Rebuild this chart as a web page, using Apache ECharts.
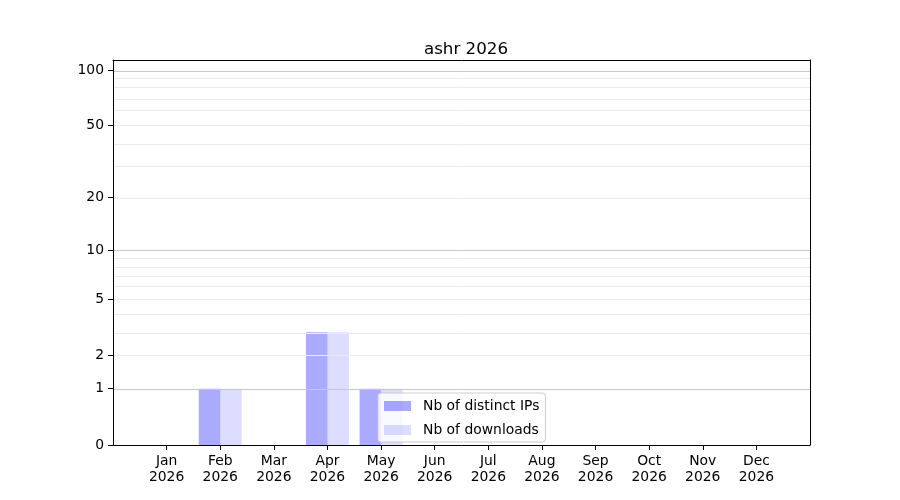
<!DOCTYPE html>
<html>
<head>
<meta charset="utf-8">
<script src="https://cdn.jsdelivr.net/npm/echarts@6/dist/echarts.min.js"></script>
<style>html,body{margin:0;padding:0;background:#fff}#c{width:900px;height:500px}</style>
</head>
<body>
<div id="c"></div>
<script>
const months = ['Jan','Feb','Mar','Apr','May','Jun','Jul','Aug','Sep','Oct','Nov','Dec'];
const year = '2026';
const distinctIPs = [0,1,0,3,1,0,0,0,0,0,0,0];
const downloads   = [0,1,0,3,1,0,0,0,0,0,0,0];
const yTicks = [0,1,2,5,10,20,50,100];
const gridMajor = [1,10,100];
const gridMinor = [2,3,4,5,6,7,8,9,20,30,40,50,60,70,80,90];
const yMaxRaw = 113.3;

const f = v => Math.log10(1 + v);
const inv = v => Math.round(Math.pow(10, v) - 1);
const FONT = 'DejaVu Sans';

const chart = echarts.init(document.getElementById('c'), null, {renderer:'canvas'});
chart.setOption({
  animation: false,
  backgroundColor: '#fff',
  title: {
    text: 'ashr ' + year,
    left: 461, top: 36, textAlign: 'center',
    textStyle: {fontFamily: FONT, fontSize: 16.7, fontWeight: 'normal', color: '#000'}
  },
  grid: {left: 113, right: 90, top: 60, bottom: 55, show: false},
  legend: {
    left: 378, top: 393, orient: 'vertical',
    itemWidth: 27, itemHeight: 10, itemGap: 10,
    padding: [6, 6, 5, 6],
    backgroundColor: 'rgba(255,255,255,0.8)',
    borderColor: '#cccccc', borderWidth: 1, borderRadius: 3,
    icon: 'rect',
    textStyle: {fontFamily: FONT, fontSize: 13.9, color: '#000', padding: [0,0,0,7]},
    data: ['Nb of distinct IPs', 'Nb of downloads'],
    z: 10
  },
  xAxis: [{
    type: 'value', min: -1, max: 12, interval: 1, z: 5,
    axisLine: {show: true, onZero: false, lineStyle: {color: '#000', width: 1}},
    axisTick: {show: true, length: 5, lineStyle: {color: '#000'}, customValues: months.map((m, i) => i)},
    axisLabel: {
      customValues: months.map((m, i) => i),
      formatter: v => months[v] + '\n' + year,
      fontFamily: FONT, fontSize: 13.9, color: '#000', lineHeight: 16, margin: 8
    },
    splitLine: {show: false}
  }, {
    type: 'value', min: -1, max: 12, position: 'top', z: 5,
    axisLine: {show: true, onZero: false, lineStyle: {color: '#000', width: 1}},
    axisTick: {show: false}, axisLabel: {show: false}, splitLine: {show: false}
  }],
  yAxis: [{
    type: 'value', min: 0, max: f(yMaxRaw), z: 5,
    axisLine: {show: true, onZero: false, lineStyle: {color: '#000', width: 1}},
    axisTick: {show: true, length: 5, lineStyle: {color: '#000'}, customValues: yTicks.map(f)},
    axisLabel: {
      customValues: yTicks.map(f),
      formatter: v => String(inv(v)),
      fontFamily: FONT, fontSize: 13.9, color: '#000', margin: 9, verticalAlign: 'middle', padding: [2,0,0,0]
    },
    splitLine: {show: false}
  }, {
    type: 'value', min: 0, max: f(yMaxRaw), position: 'right', z: 5,
    axisLine: {show: true, onZero: false, lineStyle: {color: '#000', width: 1}},
    axisTick: {show: false}, axisLabel: {show: false}, splitLine: {show: false}
  }],
  series: [
    {
      type: 'line', data: [], z: -1, silent: true,
      markLine: {
        silent: true, symbol: 'none', animation: false,
        label: {show: false},
        data: gridMinor.map(v => ({yAxis: f(v), lineStyle: {color: '#ebebeb', width: 1, type: 'solid'}}))
          .concat(gridMajor.map(v => ({yAxis: f(v), lineStyle: {color: '#c8c8c8', width: 1, type: 'solid'}})))
      }
    },
    {
      name: 'Nb of distinct IPs', type: 'bar', barWidth: 21.5, barGap: '0%',
      itemStyle: {color: 'rgba(0,0,255,0.333)', borderWidth: 0}, z: 2,
      data: distinctIPs.map((v, i) => [i, f(v)])
    },
    {
      name: 'Nb of downloads', type: 'bar', barWidth: 21.5, barGap: '0%',
      itemStyle: {color: 'rgba(0,0,255,0.133)', borderWidth: 0}, z: 2,
      data: downloads.map((v, i) => [i, f(v)])
    }
  ]
});
</script>
</body>
</html>
